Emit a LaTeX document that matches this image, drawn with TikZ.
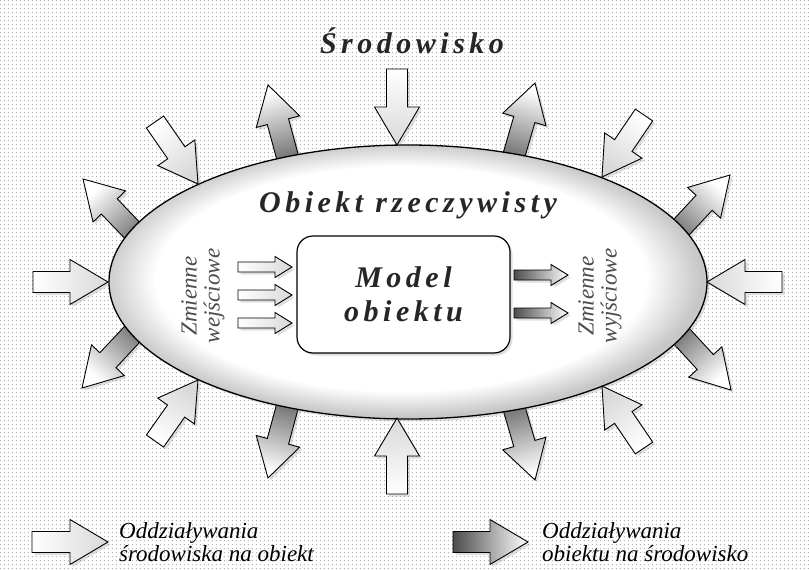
\documentclass[tikz,border=0pt]{standalone}
\usepackage{fontspec}
\setmainfont{LiberationSerif}[Extension=.ttf, UprightFont=*-Regular, ItalicFont=*-Italic,
  BoldFont=*-Bold, BoldItalicFont=*-BoldItalic]
\newfontfamily\spacedfont{LiberationSerif}[Extension=.ttf, UprightFont=*-Regular, ItalicFont=*-Italic,
  BoldFont=*-Bold, BoldItalicFont=*-BoldItalic, LetterSpace=15]
\usetikzlibrary{calc,shapes.geometric,shadows,patterns}

% dotted paper behind the picture
\pgfdeclarepatternformonly{bgdots}{\pgfpointorigin}{\pgfpoint{4pt}{4pt}}{\pgfpoint{4pt}{4pt}}{%
  \pgfpathrectangle{\pgfpoint{1pt}{1pt}}{\pgfpoint{1.4pt}{1.4pt}}\pgfusepath{fill}}
% white body, grey only near the rim
\pgfdeclareradialshading{objshade}{\pgfpoint{-1bp}{1bp}}{color(0bp)=(white); color(20.5bp)=(white);
  color(25bp)=(black!22); color(50bp)=(black!22)}

% block arrow: style, tail, tip, shaft half width, head half width, head length
\newcommand{\blockarrow}[6]{%
  \pgfmathanglebetweenpoints{\pgfpointanchor{#2}{center}}{\pgfpointanchor{#3}{center}}%
  \pgfmathsetmacro{\arrowang}{\pgfmathresult-90}%
  \coordinate (hb) at ($(#3)!#6!(#2)$);
  \path[#1, shading angle=\arrowang] ($(#2)!#4!90:(#3)$) -- ($(hb)!#4!90:(#3)$) -- ($(hb)!#5!90:(#3)$)
    -- (#3) -- ($(hb)!#5!-90:(#3)$) -- ($(hb)!#4!-90:(#3)$) -- ($(#2)!#4!-90:(#3)$) -- cycle;
}

\begin{document}
\begin{tikzpicture}[
    x=1pt, y=-1pt,
    shade/.style={drop shadow={opacity=0.25, shadow xshift=2.5pt, shadow yshift=-2.5pt}},
    inarrow/.style={draw=black, line width=0.9pt, line join=miter, top color=gray!30, bottom color=white, shade},
    outarrow/.style={draw=black, line width=0.9pt, line join=miter, top color=white, bottom color=black!70, shade},
    title/.style={font=\spacedfont\bfseries\itshape\fontsize{30}{34}\selectfont, text=black!85},
    side/.style={font=\itshape\fontsize{23}{23}\selectfont, text=black!70, align=center, rotate=90},
    legend/.style={font=\itshape\fontsize{23}{23}\selectfont, align=left, anchor=west, inner sep=0pt}
]
\useasboundingbox (0,0) rectangle (809,570);

% Background
\fill[white] (0,0) rectangle (809,570);
\fill[pattern=bgdots, pattern color=gray!60] (0,0) rectangle (809,570);

% Object acting on the environment
\foreach \ax/\ay/\bx/\by in {294/181/268/85, 507/179/535/83, 294/382/268/478, 507/384/535/480,
    152/251/83/179, 152/313/82/388, 662/248/730/175, 663/316/731/390}{
  \coordinate (ta) at (\ax,\ay);
  \coordinate (tb) at (\bx,\by);
  \blockarrow{outarrow}{ta}{tb}{11pt}{22.5pt}{38pt}
}

% Real object
\node[ellipse, draw, line width=1.3pt, minimum width=598pt, minimum height=274pt, inner sep=0pt,
    shading=objshade, shade] (obj) at (408,282) {};

% Environment acting on the object
\foreach \ax/\ay/\bx/\by in {397/69/397/145, 397/494/397/418, 33/282/108/282, 782/282/707/282,
    155/122/198/184, 644/115/602/177, 155/441/198/380, 644/448/602/386}{
  \coordinate (ta) at (\ax,\ay);
  \coordinate (tb) at (\bx,\by);
  \blockarrow{inarrow}{ta}{tb}{10.5pt}{22.5pt}{38pt}
}

% Model
\node[draw, rounded corners=16pt, line width=1.2pt, minimum width=213pt, minimum height=117pt,
    fill=white, shade, align=center, title] (model) at (403.5,294.5) {Model\\obiektu};

% Inputs and outputs
\foreach \y in {267,295,323}{
  \coordinate (ia) at (238,\y);
  \coordinate (ib) at (292,\y);
  \blockarrow{inarrow}{ia}{ib}{5pt}{10.5pt}{17pt}
}
\foreach \y in {275,313}{
  \coordinate (oa) at (514,\y);
  \coordinate (ob) at (568,\y);
  \blockarrow{outarrow}{oa}{ob}{5pt}{10.5pt}{17pt}
}

% Labels
\node[title, anchor=base] (env) at (412,53) {Środowisko};
\node[title, anchor=base] (objname) at (408,212) {Obiekt rzeczywisty};
\node[side] (inputs) at (203,296) {Zmienne\\wejściowe};
\node[side] (outputs) at (600,296) {Zmienne\\wyjściowe};

% Legend
\coordinate (la) at (32,542);
\coordinate (lb) at (108,542);
\blockarrow{inarrow}{la}{lb}{10.5pt}{22.5pt}{38pt}
\coordinate (lc) at (453,542);
\coordinate (ld) at (528,542);
\blockarrow{outarrow}{lc}{ld}{10.5pt}{22.5pt}{38pt}
\node[legend] (leg1) at (119,542) {Oddziaływania\\środowiska na obiekt};
\node[legend] (leg2) at (542,542) {Oddziaływania\\obiektu na środowisko};

\end{tikzpicture}
\end{document}
